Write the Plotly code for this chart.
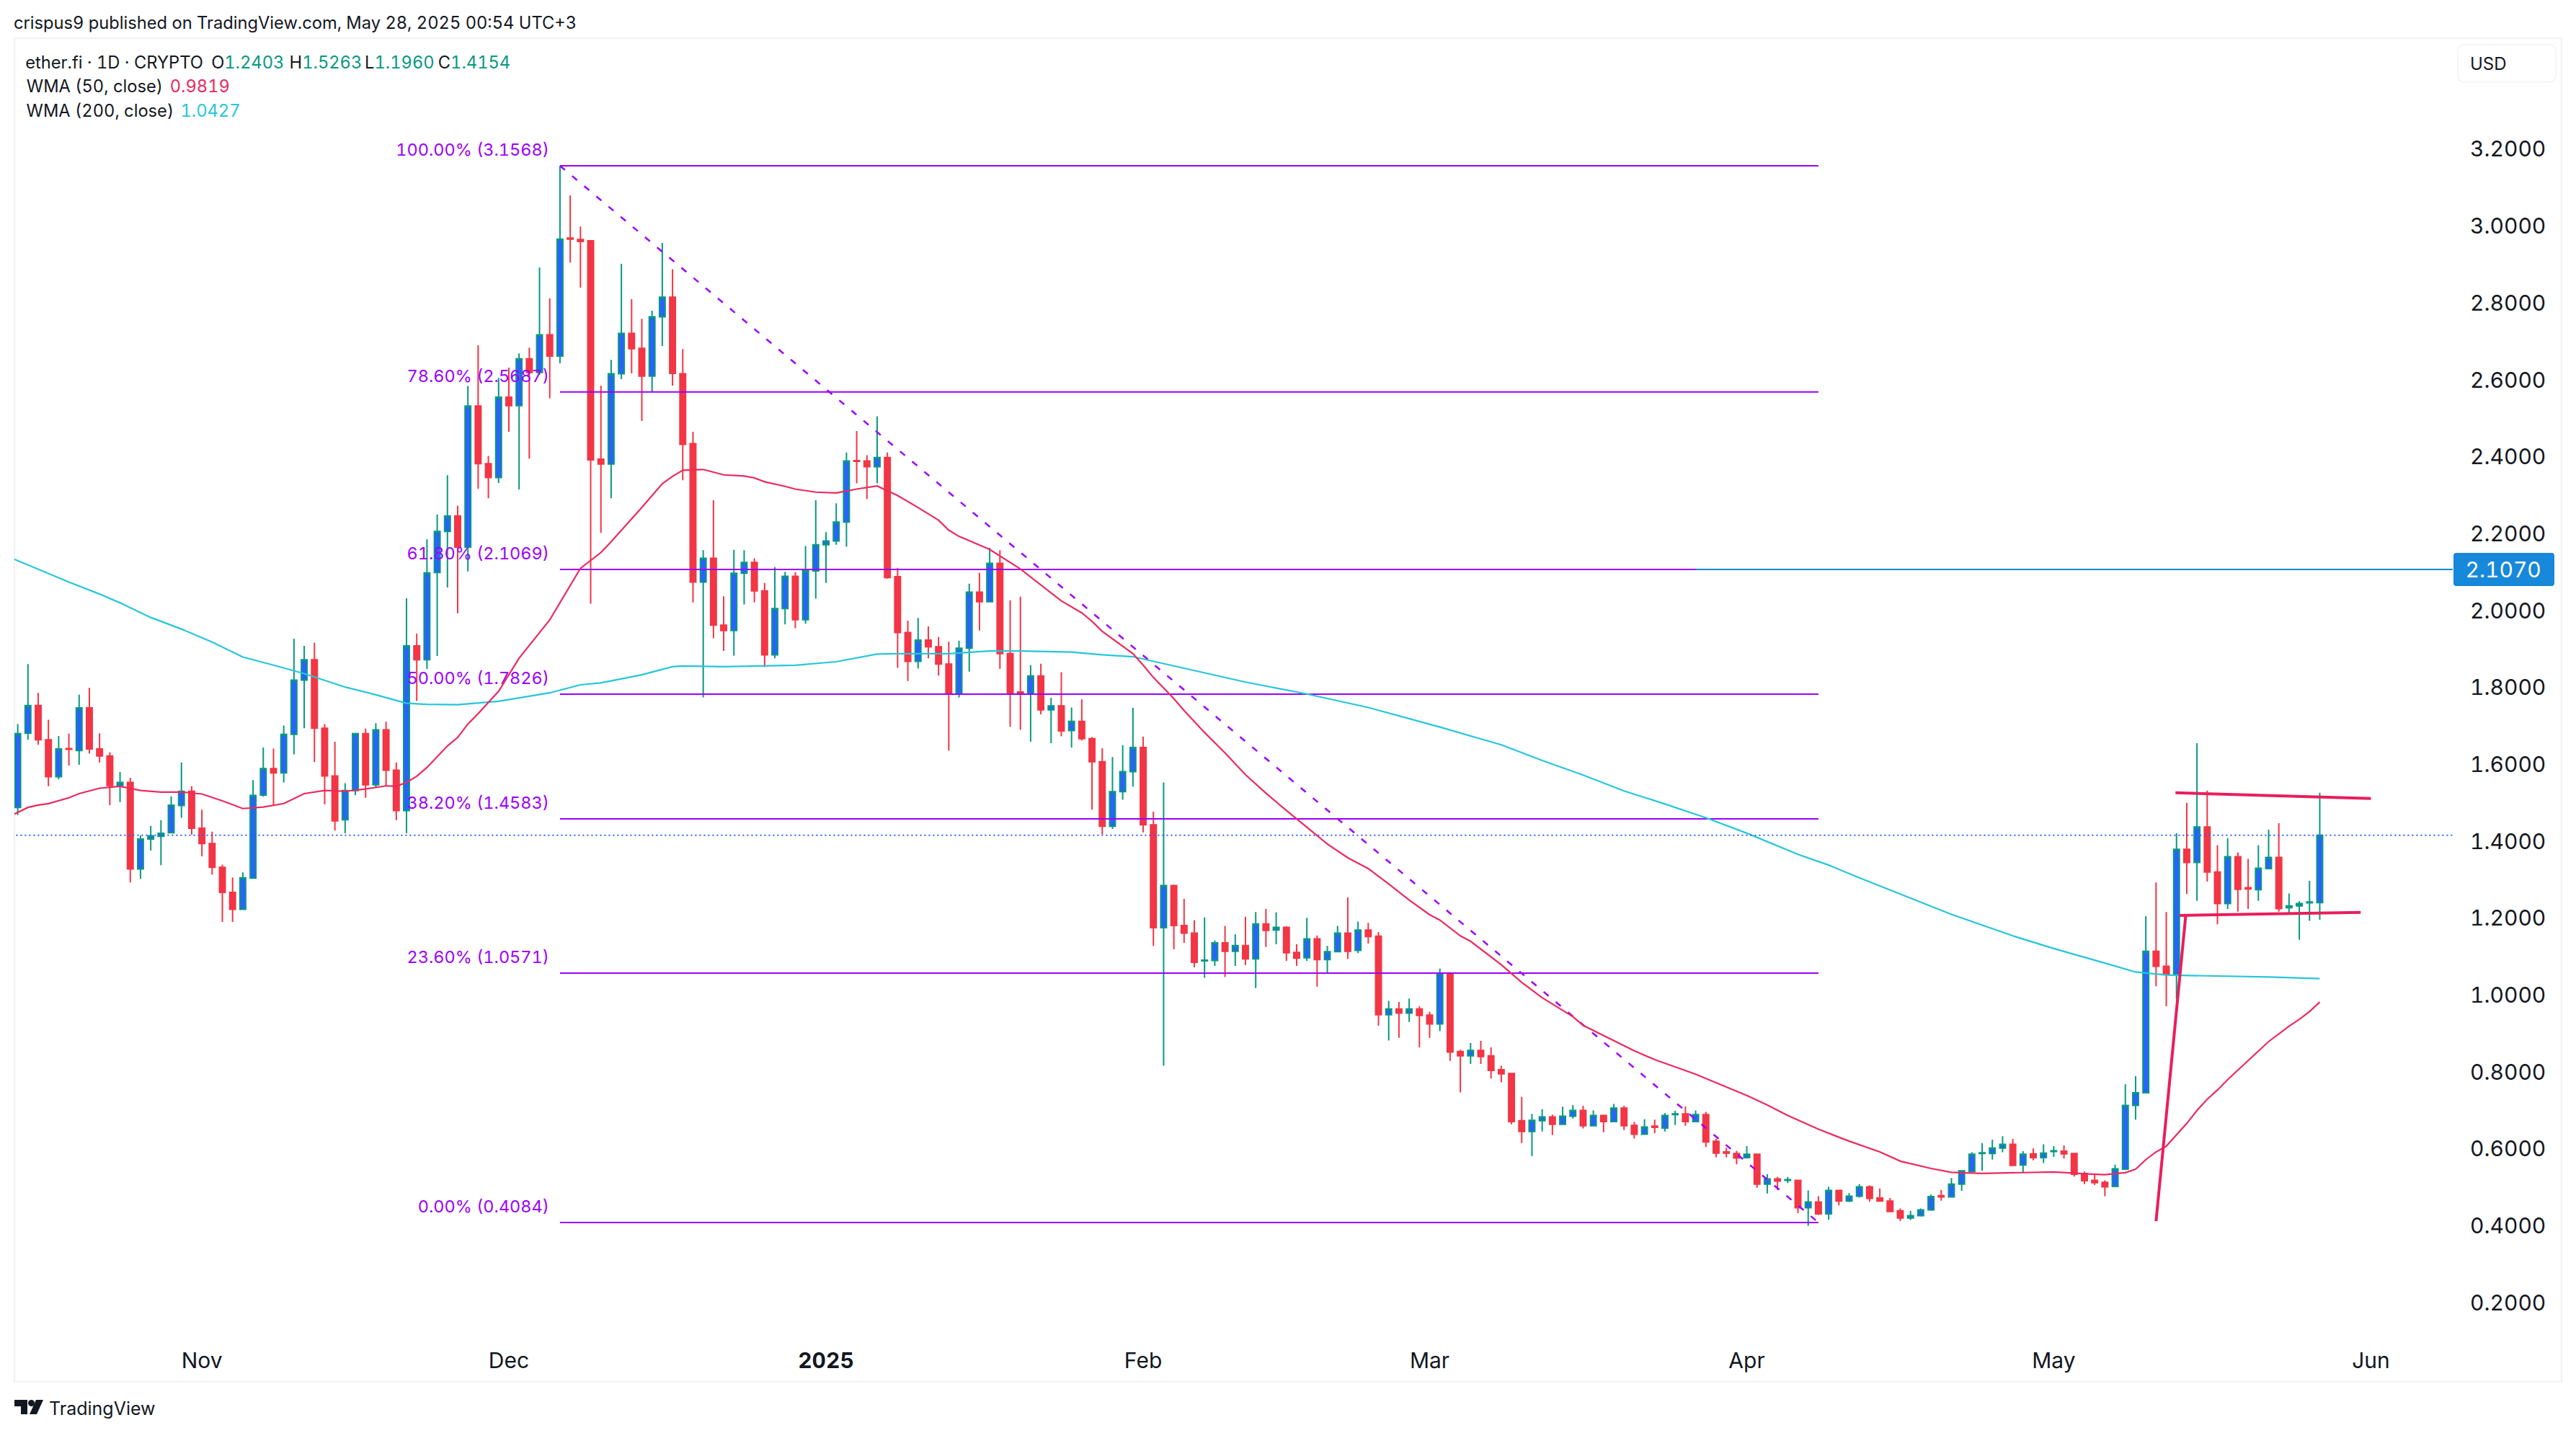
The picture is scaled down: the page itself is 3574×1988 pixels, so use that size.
import pandas as pd
import plotly.graph_objects as go

first_day = "2024-10-14"

opens = [1.488,1.681,1.753,1.664,1.568,1.641,1.636,1.747,1.640,1.622,1.545,1.553,1.328,1.406,1.413,1.422,1.493,1.530,1.434,1.394,
1.332,1.267,1.223,1.304,1.520,1.589,1.578,1.678,1.819,1.872,1.694,1.570,1.456,1.532,1.680,1.547,1.690,1.585,1.480,1.908,
1.872,2.099,2.206,2.246,2.165,2.532,2.382,2.346,2.555,2.533,2.655,2.619,2.717,2.662,2.969,2.965,2.962,2.394,2.381,2.616,
2.721,2.682,2.610,2.764,2.815,2.616,2.434,2.074,2.136,1.962,1.948,2.097,2.125,2.051,1.885,2.005,2.089,1.976,2.103,2.171,
2.181,2.230,2.390,2.389,2.374,2.398,2.088,1.943,1.868,1.923,1.906,1.861,1.783,1.902,2.048,2.023,2.123,1.888,1.788,1.783,
1.830,1.742,1.752,1.688,1.712,1.667,1.607,1.439,1.529,1.581,1.644,1.443,1.175,1.285,1.181,1.161,1.089,1.090,1.136,1.114,
1.129,1.094,1.185,1.169,1.176,1.111,1.097,1.146,1.092,1.113,1.161,1.116,1.169,1.153,0.949,0.964,0.953,0.964,0.948,0.925,
1.057,0.853,0.842,0.856,0.842,0.806,0.796,0.673,0.645,0.673,0.683,0.664,0.685,0.700,0.660,0.687,0.671,0.706,0.661,0.638,
0.659,0.654,0.689,0.691,0.671,0.689,0.620,0.592,0.588,0.577,0.586,0.508,0.522,0.518,0.518,0.447,0.462,0.431,0.492,0.464,
0.477,0.501,0.472,0.464,0.439,0.420,0.426,0.441,0.478,0.475,0.508,0.541,0.588,0.588,0.602,0.612,0.558,0.587,0.577,0.593,
0.594,0.588,0.536,0.518,0.513,0.502,0.547,0.713,0.746,1.114,1.075,1.054,1.379,1.345,1.437,1.320,1.238,1.360,1.279,1.274,
1.329,1.358,1.227,1.232,1.240,1.2403]
highs = [1.705,1.861,1.786,1.716,1.674,1.680,1.781,1.799,1.681,1.631,1.580,1.565,1.415,1.440,1.455,1.517,1.605,1.543,1.482,1.425,
1.339,1.306,1.319,1.559,1.644,1.641,1.701,1.927,1.908,1.916,1.705,1.659,1.551,1.681,1.693,1.707,1.711,1.605,2.032,1.940,
2.185,2.250,2.352,2.273,2.584,2.690,2.402,2.605,2.632,2.669,2.684,2.892,2.812,3.1568,3.080,2.999,2.962,2.585,2.652,2.902,
2.810,2.759,2.780,2.956,2.888,2.680,2.465,2.157,2.287,2.037,2.158,2.157,2.136,2.072,2.113,2.101,2.100,2.168,2.287,2.204,
2.279,2.411,2.467,2.404,2.505,2.411,2.111,1.974,1.981,1.959,1.931,1.919,1.922,2.070,2.098,2.163,2.157,2.027,2.036,1.858,
1.862,1.773,1.840,1.748,1.769,1.671,1.642,1.619,1.650,1.747,1.672,1.477,1.553,1.287,1.250,1.195,1.202,1.142,1.180,1.158,
1.204,1.216,1.224,1.215,1.179,1.132,1.201,1.155,1.128,1.180,1.254,1.191,1.188,1.164,0.985,0.982,0.991,0.971,0.957,1.069,
1.060,0.858,0.875,0.881,0.864,0.816,0.798,0.735,0.691,0.703,0.689,0.710,0.714,0.712,0.700,0.689,0.717,0.712,0.670,0.677,
0.676,0.693,0.699,0.710,0.700,0.696,0.626,0.603,0.595,0.607,0.587,0.534,0.527,0.527,0.519,0.492,0.477,0.501,0.493,0.485,
0.508,0.505,0.497,0.472,0.445,0.439,0.445,0.481,0.493,0.524,0.544,0.591,0.615,0.624,0.633,0.626,0.594,0.601,0.612,0.607,
0.609,0.590,0.541,0.534,0.518,0.559,0.768,0.789,1.205,1.293,1.216,1.421,1.500,1.655,1.532,1.390,1.408,1.371,1.354,1.390,
1.430,1.447,1.264,1.244,1.297,1.5263]
lows = [1.468,1.664,1.651,1.543,1.561,1.597,1.599,1.628,1.605,1.494,1.502,1.293,1.302,1.376,1.338,1.422,1.461,1.417,1.361,1.313,
1.190,1.190,1.223,1.304,1.516,1.493,1.553,1.626,1.694,1.606,1.496,1.428,1.421,1.520,1.513,1.539,1.543,1.455,1.421,1.765,
1.848,1.882,2.060,1.993,2.102,2.317,2.292,2.332,2.465,2.315,2.395,2.613,2.552,2.643,2.905,2.840,2.018,2.202,2.292,2.602,
2.617,2.493,2.569,2.688,2.585,2.339,2.021,1.774,1.928,1.895,1.883,2.016,2.021,1.853,1.876,1.964,1.954,1.966,2.031,2.072,
2.171,2.166,2.331,2.290,2.331,2.083,1.851,1.817,1.849,1.876,1.831,1.636,1.774,1.841,1.948,2.023,1.848,1.698,1.690,1.659,
1.730,1.655,1.673,1.644,1.662,1.482,1.418,1.432,1.508,1.542,1.423,1.128,0.816,1.119,1.136,1.072,1.045,1.076,1.047,1.076,
1.078,1.018,1.125,1.132,1.089,1.076,1.089,1.022,1.056,1.112,1.094,1.109,1.134,0.920,0.882,0.889,0.930,0.864,0.889,0.906,
0.829,0.747,0.821,0.821,0.783,0.773,0.664,0.615,0.581,0.645,0.636,0.662,0.679,0.653,0.660,0.643,0.669,0.649,0.627,0.638,
0.641,0.645,0.662,0.660,0.671,0.605,0.578,0.578,0.560,0.575,0.499,0.484,0.493,0.511,0.433,0.400,0.428,0.416,0.453,0.462,
0.473,0.463,0.463,0.435,0.412,0.415,0.424,0.439,0.465,0.475,0.491,0.540,0.543,0.572,0.591,0.556,0.538,0.570,0.563,0.579,
0.575,0.528,0.508,0.506,0.477,0.502,0.545,0.676,0.744,1.023,0.971,0.990,1.263,1.245,1.295,1.184,1.224,1.217,1.224,1.245,
1.329,1.217,1.214,1.144,1.193,1.1960]
closes = [1.680,1.753,1.664,1.568,1.640,1.639,1.747,1.640,1.622,1.545,1.553,1.328,1.406,1.414,1.421,1.494,1.530,1.434,1.394,1.332,
1.267,1.223,1.305,1.519,1.589,1.578,1.678,1.819,1.872,1.694,1.570,1.453,1.532,1.680,1.547,1.690,1.585,1.480,1.908,1.872,
2.098,2.206,2.246,2.165,2.532,2.382,2.346,2.555,2.533,2.655,2.619,2.717,2.662,2.966,2.966,2.960,2.392,2.381,2.616,2.721,
2.681,2.610,2.764,2.815,2.617,2.432,2.074,2.136,1.962,1.948,2.097,2.125,2.051,1.885,2.005,2.089,1.976,2.103,2.171,2.181,
2.230,2.389,2.388,2.374,2.398,2.086,1.943,1.868,1.923,1.906,1.861,1.783,1.902,2.048,2.023,2.123,1.888,1.786,1.783,1.830,
1.742,1.752,1.687,1.712,1.667,1.607,1.439,1.529,1.581,1.644,1.443,1.175,1.285,1.181,1.161,1.085,1.091,1.136,1.114,1.129,
1.094,1.185,1.168,1.176,1.110,1.096,1.146,1.092,1.113,1.161,1.114,1.169,1.152,0.949,0.964,0.953,0.964,0.947,0.925,1.057,
0.852,0.842,0.856,0.840,0.804,0.795,0.671,0.645,0.674,0.683,0.664,0.685,0.700,0.660,0.687,0.671,0.706,0.660,0.638,0.657,
0.656,0.687,0.691,0.671,0.689,0.618,0.589,0.589,0.576,0.586,0.508,0.522,0.516,0.520,0.447,0.462,0.431,0.492,0.464,0.477,
0.501,0.471,0.464,0.437,0.420,0.426,0.441,0.476,0.475,0.508,0.543,0.586,0.590,0.602,0.612,0.557,0.586,0.577,0.589,0.595,
0.587,0.534,0.517,0.512,0.501,0.548,0.713,0.746,1.114,1.075,1.054,1.379,1.345,1.437,1.320,1.238,1.360,1.275,1.276,1.330,
1.358,1.225,1.232,1.238,1.242,1.4154]

wma50_days = [-1,1,2,3,5,6,8,10,12,14,16,18,20,22,24,26,28,30,32,34,36,37,38,39,40,42,43,44,45,46,47,49,52,55,57,58,60,61,63,64,65,67,69,71,72,73,75,76,78,80,82,84,86,88,90,91,92,94,95,98,100,102,104,105,106,109,110,111,113,114,116,118,120,122,124,126,128,130,132,134,136,138,139,141,142,145,147,149,152,153,155,158,160,164,167,169,171,173,176,179,182,184,187,189,192,195,199,202,204,206,207,208,209,210,212,213,214,215,216,217,218,220,221,222,223,224,225]
wma50_vals = [1.462,1.488,1.494,1.498,1.513,1.524,1.538,1.543,1.532,1.528,1.528,1.523,1.505,1.485,1.489,1.498,1.524,1.532,1.530,1.536,1.544,1.543,1.553,1.569,1.592,1.648,1.670,1.705,1.732,1.760,1.790,1.876,1.976,2.110,2.151,2.179,2.237,2.268,2.330,2.349,2.365,2.367,2.353,2.350,2.345,2.335,2.323,2.316,2.308,2.306,2.316,2.324,2.299,2.268,2.235,2.209,2.193,2.170,2.159,2.108,2.067,2.025,1.994,1.972,1.946,1.888,1.858,1.826,1.771,1.740,1.683,1.630,1.573,1.525,1.480,1.436,1.393,1.357,1.329,1.289,1.247,1.209,1.195,1.154,1.140,1.079,1.033,0.993,0.944,0.921,0.894,0.855,0.832,0.794,0.761,0.739,0.714,0.687,0.651,0.620,0.592,0.568,0.549,0.539,0.536,0.538,0.540,0.535,0.533,0.538,0.547,0.572,0.592,0.607,0.666,0.700,0.729,0.753,0.780,0.805,0.830,0.879,0.899,0.919,0.937,0.957,0.9819]
wma200_days = [-1,2,5,8,10,13,16,19,22,25,28,32,35,38,40,43,44,47,52,55,57,61,64,65,69,73,76,80,84,86,91,95,98,103,106,109,112,116,120,126,132,139,143,145,149,153,157,161,165,169,174,177,180,184,189,195,199,204,207,210,212,215,220,225]
wma200_vals = [2.141,2.108,2.074,2.043,2.020,1.982,1.952,1.918,1.879,1.858,1.836,1.801,1.781,1.759,1.756,1.755,1.757,1.764,1.786,1.807,1.812,1.833,1.854,1.856,1.854,1.856,1.858,1.867,1.887,1.888,1.888,1.895,1.895,1.892,1.885,1.880,1.862,1.839,1.814,1.783,1.748,1.697,1.666,1.651,1.610,1.572,1.531,1.497,1.461,1.421,1.366,1.338,1.305,1.263,1.210,1.154,1.121,1.083,1.060,1.052,1.051,1.049,1.047,1.0427]

fib_pcts = ["100.00%","78.60%","61.80%","50.00%","38.20%","23.60%","0.00%"]
fib_levels = [3.1568,2.5687,2.1069,1.7826,1.4583,1.0571,0.4084]
fib_span_days = [53,176]
line_alert_days = [164,238]
line_alert_level = 2.1070
last_close = 1.4154

pole_days, pole_vals = [209,211.9],[0.412,1.207]
flag_low_days, flag_low_vals = [211.3,229],[1.207,1.215]
flag_high_days, flag_high_vals = [210.9,230],[1.526,1.511]

price_ticks = [0.2,0.4,0.6,0.8,1.0,1.2,1.4,1.6,1.8,2.0,2.2,2.4,2.6,2.8,3.0,3.2]
month_ticks = ["2024-11-01","2024-12-01","2025-01-01","2025-02-01","2025-03-01","2025-04-01","2025-05-01","2025-06-01"]
month_text = ["Nov","Dec","<b>2025</b>","Feb","Mar","Apr","May","Jun"]

UP, UPFILL, DOWN = "#089981", "#2962FF", "#F23645"
PURPLE, PINK, CYAN, ALERT, INK = "#9C00FF", "#EC2A5E", "#26C6DA", "#1788DA", "#131722"
ANNOT = "#E91E5B"
FONT = "Inter, Liberation Sans, sans-serif"
W, H = 3574, 1988
L, R, T, B = 20, 3403, 53, 1857

base = pd.Timestamp(first_day)
def day(n):
    return base + pd.to_timedelta(n, unit="D")
def days(seq):
    return [day(n) for n in seq]
def px(x):
    return (x - L) / (R - L)
def py(y):
    return (B - y) / (B - T)

dates = [day(i) for i in range(len(opens))]
x_at = lambda p: (p - 24.6) / 14.195
y_at = lambda p: 3.588 - p / 533.4

fig = go.Figure()
for lvl in fib_levels:
    fig.add_trace(go.Scatter(x=days(fib_span_days), y=[lvl, lvl], mode="lines", line=dict(color=PURPLE, width=2), hoverinfo="skip"))
fig.add_trace(go.Scatter(x=days(fib_span_days), y=[fib_levels[0], fib_levels[-1]], mode="lines",
                         line=dict(color=PURPLE, width=2.5, dash="9px,13px"), hoverinfo="skip"))
label_gap = 20 / 533.4
fig.add_trace(go.Scatter(x=[day(51.95)] * len(fib_levels), y=[l + label_gap for l in fib_levels], mode="text",
                         text=[f"{p} ({l:.4f})" for p, l in zip(fib_pcts, fib_levels)],
                         textposition="middle left", textfont=dict(color=PURPLE, size=23.5, family=FONT), hoverinfo="skip"))
fig.add_trace(go.Scatter(x=days(line_alert_days), y=[line_alert_level] * 2, mode="lines", line=dict(color=ALERT, width=2), hoverinfo="skip"))
fig.add_trace(go.Scatter(x=days(wma200_days), y=wma200_vals, mode="lines", line=dict(color=CYAN, width=2.2), hoverinfo="skip"))
fig.add_trace(go.Scatter(x=days(wma50_days), y=wma50_vals, mode="lines", line=dict(color=PINK, width=2.2), hoverinfo="skip"))
fig.add_trace(go.Scatter(x=days([-1, 238]), y=[last_close, last_close], mode="lines", line=dict(color=UPFILL, width=2, dash="2px,4px"), hoverinfo="skip"))
fig.add_trace(go.Candlestick(x=dates, open=opens, high=highs, low=lows, close=closes, whiskerwidth=0,
                             increasing=dict(line=dict(color=UP, width=2), fillcolor=UPFILL),
                             decreasing=dict(line=dict(color=DOWN, width=2), fillcolor=DOWN), hoverinfo="skip"))
for dd, vv in [(pole_days, pole_vals), (flag_low_days, flag_low_vals), (flag_high_days, flag_high_vals)]:
    fig.add_trace(go.Scatter(x=days(dd), y=vv, mode="lines", line=dict(color=ANNOT, width=4), hoverinfo="skip"))

def note(x, y, text, size=23.7, color=INK, anchor="left", **kw):
    fig.add_annotation(xref="paper", yref="paper", x=px(x), y=py(y), text=text, showarrow=False,
                       xanchor=anchor, yanchor="middle", font=dict(size=size, color=color, family=FONT), **kw)

note(20, 32, "crispus9 published on TradingView.com, May 28, 2025 00:54 UTC+3")
note(36, 86, "ether.fi · 1D · CRYPTO")
for xpos, letter, num in [(295, "O", "1.2403"), (404, "H", "1.5263"), (512, "L", "1.1960"), (612, "C", "1.4154")]:
    note(xpos, 86, f'{letter}<span style="color:{UP}">{num}</span>')
note(36, 120, "WMA (50, close)")
note(238, 120, "0.9819", color=PINK)
note(36, 153, "WMA (200, close)")
note(253, 153, "1.0427", color=CYAN)
note(3425, 88, "USD", size=24)
note(3426, 790, "2.1070", size=30, color="#FFFFFF")
note(66, 1954, "TradingView", size=25)

def rounded(x0, y0, x1, y1, r):
    a, b, c, d = px(x0), py(y0), px(x1), py(y1)
    rx, ry = r / (R - L), r / (B - T)
    return (f"M{a+rx},{b} L{c-rx},{b} Q{c},{b} {c},{b-ry} L{c},{d+ry} Q{c},{d} {c-rx},{d} "
            f"L{a+rx},{d} Q{a},{d} {a},{d+ry} L{a},{b-ry} Q{a},{b} {a+rx},{b} Z")

shapes = [
    dict(type="rect", xref="paper", yref="paper", x0=px(20), x1=px(3554), y0=py(53), y1=py(1917), line=dict(color="#F2F3F5", width=2.5), layer="below"),
    dict(type="path", xref="paper", yref="paper", path=rounded(3410, 62, 3546, 114, 10), line=dict(color="#F2F3F5", width=1.5), fillcolor="#FFFFFF"),
    dict(type="path", xref="paper", yref="paper", path=rounded(3404, 767, 3544, 813, 4), line=dict(width=0), fillcolor=ALERT),
    dict(type="path", xref="paper", yref="paper", line=dict(width=0), fillcolor="#131722",
         path=f"M{px(20)},{py(1942)} L{px(38)},{py(1942)} L{px(38)},{py(1962)} L{px(29)},{py(1962)} L{px(29)},{py(1951)} L{px(20)},{py(1951)} Z"),
    dict(type="circle", xref="paper", yref="paper", x0=px(39), x1=px(48), y0=py(1942), y1=py(1951), line=dict(width=0), fillcolor="#131722"),
    dict(type="path", xref="paper", yref="paper", line=dict(width=0), fillcolor="#131722",
         path=f"M{px(50)},{py(1942)} L{px(60)},{py(1942)} L{px(51)},{py(1962)} L{px(41)},{py(1962)} Z"),
]

fig.update_layout(
    width=W, height=H, margin=dict(l=L, r=W - R, t=T, b=H - B, autoexpand=False),
    paper_bgcolor="#FFFFFF", plot_bgcolor="#FFFFFF", showlegend=False,
    boxgap=0.44, boxgroupgap=0, shapes=shapes, hovermode=False,
    font=dict(family=FONT, color=INK),
    xaxis=dict(type="date", range=[day(x_at(L)), day(x_at(R))], rangeslider=dict(visible=False), showgrid=False, zeroline=False,
               showline=False, tickmode="array", tickvals=month_ticks, ticktext=month_text, ticks="outside", ticklen=4,
               tickcolor="rgba(0,0,0,0)", tickfont=dict(size=30, color=INK)),
    yaxis=dict(side="right", range=[y_at(B), y_at(T)], showgrid=False, zeroline=False, showline=False,
               tickmode="array", tickvals=price_ticks, ticktext=[f"{t:.4f}" for t in price_ticks], ticks="outside", ticklen=17,
               tickcolor="rgba(0,0,0,0)", tickfont=dict(size=30, color=INK)),
)
tabular = ("var s=document.createElement('style');"
           "s.textContent='text{font-variant-numeric:tabular-nums;font-feature-settings:\"tnum\" 1;}';"
           "document.head.appendChild(s);document.body.style.margin='0';")
fig.write_html("out.html", post_script=tabular, config={"displayModeBar": False})
